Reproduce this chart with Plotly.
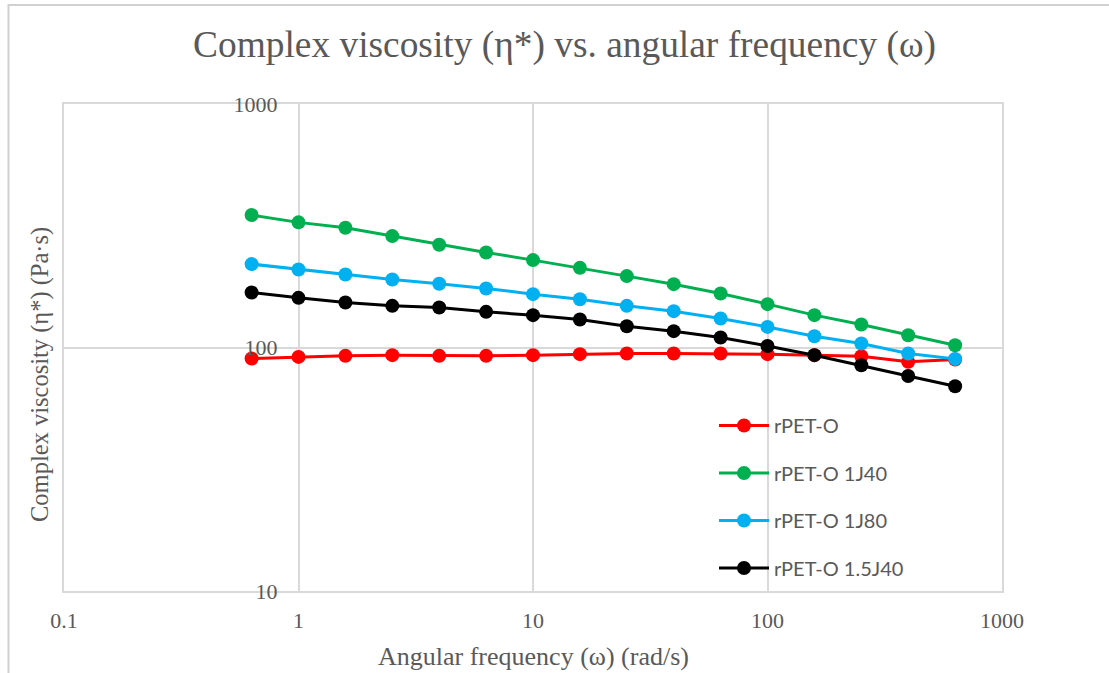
import plotly.graph_objects as go

freq = [0.631, 1, 1.585, 2.512, 3.981, 6.31, 10, 15.85, 25.12, 39.81, 63.1, 100, 158.5, 251.2, 398.1, 631]

series_names = ["rPET-O", "rPET-O 1J40", "rPET-O 1J80", "rPET-O 1.5J40"]
rpet_o = [90.1, 91.5, 92.4, 93.0, 92.4, 92.4, 93.0, 93.9, 94.5, 94.5, 94.5, 93.9, 93.0, 92.1, 87.3, 89.3]
rpet_o_1j40 = [350, 326.5, 310.1, 286.8, 264.1, 245.7, 228.5, 212.4, 196.4, 182.0, 166.7, 150.7, 135.8, 124.3, 112.3, 102.2]
rpet_o_1j80 = [220.0, 209.2, 199.5, 190.3, 182.6, 174.8, 165.6, 157.9, 148.3, 141.0, 131.6, 121.5, 111.3, 103.8, 94.5, 89.8]
rpet_o_15j40 = [168.3, 159.9, 153.1, 148.3, 146.0, 140.1, 135.8, 130.4, 122.3, 116.7, 109.9, 101.5, 93.0, 84.6, 76.4, 69.3]
colors = ["#ff0000", "#00b050", "#00b0f0", "#000000"]

x_ticks = [0.1, 1, 10, 100, 1000]
x_tick_text = ["0.1", "1", "10", "100", "1000"]
y_ticks = [10, 100, 1000]
y_tick_text = ["10", "100", "1000"]

W, H = 1109, 673
L, R, T, B = 64, 107, 104, 82
pw, ph = W - L - R, H - T - B

def px(x):
    return (x - L) / pw

def py(y):
    return (H - B - y) / ph

fig = go.Figure()
for name, vals, c in zip(series_names, [rpet_o, rpet_o_1j40, rpet_o_1j80, rpet_o_15j40], colors):
    fig.add_trace(go.Scatter(
        x=freq, y=vals, name=name, mode="lines+markers",
        line=dict(color=c, width=3),
        marker=dict(color=c, size=14),
        legendgroup=name,
    ))

grid = "#d9d9d9"
tick_font = dict(family="Liberation Serif", size=22, color="#595959")

fig.update_layout(
    width=W, height=H,
    margin=dict(l=L, r=R, t=T, b=B),
    paper_bgcolor="white", plot_bgcolor="white",
    showlegend=True,
    xaxis=dict(
        type="log", range=[-1, 3],
        tickvals=x_ticks, ticktext=x_tick_text,
        showgrid=True, gridcolor=grid, gridwidth=2,
        showline=True, linecolor=grid, linewidth=2, mirror=True,
        zeroline=False, ticks="", tickfont=tick_font,
        ticklabelstandoff=9,
    ),
    yaxis=dict(
        type="log", range=[1, 3],
        tickvals=y_ticks, ticktext=y_tick_text,
        showgrid=True, gridcolor=grid, gridwidth=2,
        showline=False, zeroline=False, ticks="", tickfont=tick_font,
        anchor="free", position=0.25,
        ticklabelstandoff=21,
    ),
    yaxis2=dict(
        type="log", range=[1, 3], overlaying="y", showgrid=False,
        showline=True, linecolor=grid, linewidth=2, mirror=True,
        showticklabels=False, ticks="", zeroline=False,
    ),
    legend=dict(
        x=px(714), y=py(406), xanchor="left", yanchor="top",
        font=dict(family="Lato", size=20, color="#595959"),
        bgcolor="rgba(0,0,0,0)", tracegroupgap=18.5, itemwidth=50,
    ),
    annotations=[
        dict(text="Complex viscosity (η*) vs. angular frequency (ω)",
             xref="paper", yref="paper", x=px(564), y=py(45),
             xanchor="center", yanchor="middle", showarrow=False,
             font=dict(family="Liberation Serif", size=37.4, color="#595959")),
        dict(text="Angular frequency (ω) (rad/s)",
             xref="paper", yref="paper", x=px(533), y=py(656),
             xanchor="center", yanchor="middle", showarrow=False,
             font=dict(family="Liberation Serif", size=26, color="#595959")),
        dict(text="Complex viscosity (η*) (Pa·s)",
             xref="paper", yref="paper", x=px(40), y=py(375),
             xanchor="center", yanchor="middle", showarrow=False, textangle=-90,
             font=dict(family="Liberation Serif", size=24.5, color="#595959")),
    ],
    shapes=[
        dict(type="rect", xref="paper", yref="paper",
             x0=px(8.5), x1=px(1130), y0=py(5), y1=py(700),
             line=dict(color="#d0d0d0", width=2), layer="below"),
    ],
)
# invisible trace on the overlay axis that draws the plot-area frame
fig.add_trace(go.Scatter(x=[1], y=[100], yaxis="y2", showlegend=False,
                         mode="markers", marker=dict(opacity=0), hoverinfo="skip"))

fig.write_html("out.html", config={"displayModeBar": False},
               post_script="document.body.style.margin='0';")
